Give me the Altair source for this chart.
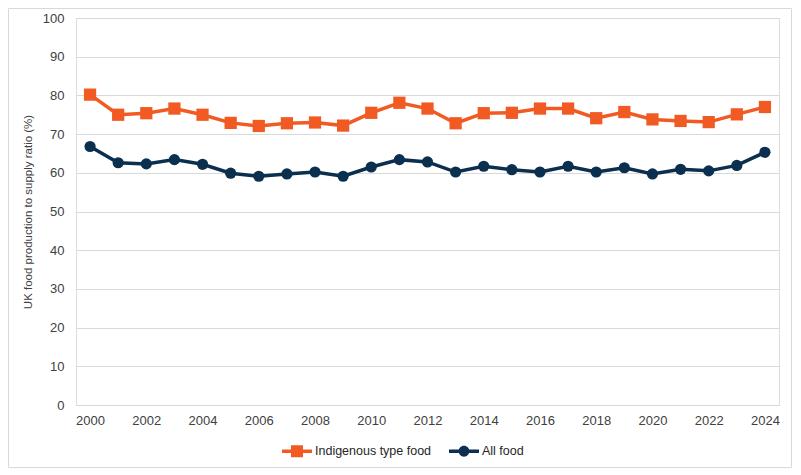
import altair as alt
import pandas as pd

years = list(range(2000, 2025))
indigenous = [80.2, 75.0, 75.4, 76.6, 75.0, 72.9, 72.1, 72.8, 73.0, 72.2, 75.5, 78.1, 76.6,
              72.8, 75.4, 75.5, 76.6, 76.6, 74.1, 75.7, 73.8, 73.4, 73.1, 75.1, 77.0]
all_food = [66.8, 62.6, 62.3, 63.4, 62.2, 59.9, 59.1, 59.7, 60.2, 59.1, 61.5, 63.4, 62.8,
            60.2, 61.7, 60.8, 60.2, 61.7, 60.2, 61.3, 59.7, 60.9, 60.5, 61.9, 65.3]
series_names = ["Indigenous type food", "All food"]
series_colors = ["#F15A22", "#0B2F4E"]
x_ticks = list(range(2000, 2025, 2))
y_title = "UK food production to supply ratio (%)"

df = pd.DataFrame({
    "year": years * 2,
    "value": indigenous + all_food,
    "series": [series_names[0]] * len(years) + [series_names[1]] * len(years),
})

FONT = "Liberation Sans"

x_enc = alt.X("year:Q", scale=alt.Scale(domain=[1999.5, 2024.5], nice=False, zero=False),
              axis=alt.Axis(values=x_ticks, format="d", grid=False, domain=False, ticks=False,
                            labelPadding=9, labelFontSize=13, labelColor="#404040",
                            labelFont=FONT, title=None))
y_enc = alt.Y("value:Q", scale=alt.Scale(domain=[0, 100], nice=False),
              axis=alt.Axis(values=list(range(0, 101, 10)), grid=True, gridColor="#d9d9d9",
                            domain=False, ticks=False, labelPadding=12, labelFontSize=13,
                            labelColor="#404040", labelFont=FONT, title=y_title,
                            titleFontSize=11.5, titleFont=FONT, titleFontWeight="normal",
                            titleColor="#404040", titlePadding=9))

base = alt.Chart(df)

layers = []
markers = ["square", "circle"]
marker_sizes = [150, 125]
for name, col, mk, ms in zip(series_names, series_colors, markers, marker_sizes):
    sub = base.transform_filter(alt.datum.series == name)
    layers.append(sub.mark_line(strokeWidth=3.5, color=col).encode(x=x_enc, y=y_enc))
    layers.append(sub.mark_point(filled=True, shape=mk, size=ms, opacity=1, color=col)
                  .encode(x=x_enc, y=y_enc))

# legend-only layer (no marks drawn): symbols are line + marker paths
legend_paths = [
    "M-1,-0.12H1V0.12H-1Z M-0.4,-0.4H0.4V0.4H-0.4Z",
    "M-1,-0.12H1V0.12H-1Z M0.36,0A0.36,0.36 0 1,1 -0.36,0A0.36,0.36 0 1,1 0.36,0Z",
]
leg = alt.Legend(title=None, orient="none", legendX=206, legendY=418, direction="horizontal",
                 symbolSize=900, labelFontSize=12.5, labelFont=FONT, labelColor="#262626",
                 labelOffset=3, columnPadding=17, symbolStrokeWidth=0)
legend_layer = base.transform_filter("datum.value < -1000").mark_point(
    filled=True, size=900, opacity=1).encode(
    x=x_enc, y=y_enc,
    color=alt.Color("series:N", scale=alt.Scale(domain=series_names, range=series_colors), legend=leg),
    shape=alt.Shape("series:N", scale=alt.Scale(domain=series_names, range=legend_paths), legend=leg),
)

border = alt.Chart(alt.Data(values=[{}])).mark_rect(
    filled=False, stroke="#d9d9d9", strokeWidth=1).encode(
    x=alt.value(-67.5), x2=alt.value(703 + 12.5), y=alt.value(-9.5), y2=alt.value(387 + 62.5))

chart = alt.layer(border, *layers, legend_layer).properties(
    width=703, height=387,
    padding={"left": 68, "top": 10, "right": 13, "bottom": 63},
    autosize="none",
).configure_view(stroke=None).configure(background="white")

chart.save("out.html", embed_options={"renderer": "svg", "actions": False})
